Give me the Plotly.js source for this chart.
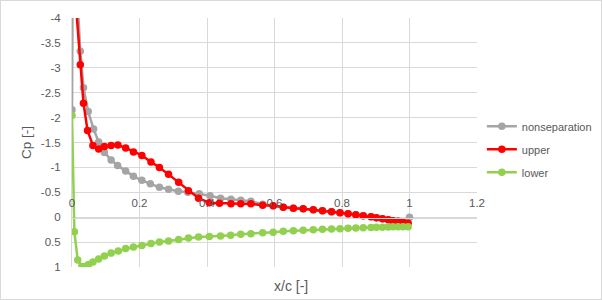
<!DOCTYPE html>
<html>
<head>
<meta charset="utf-8">
<script src="https://cdn.plot.ly/plotly-3.0.1.min.js"></script>
<style>
  html, body { margin: 0; padding: 0; background: #fff; }
  #chart { width: 600px; height: 298px; border: 1px solid #d9d9d9; }
</style>
</head>
<body>
<div id="chart"></div>
<script>
// ---- data ----
const nonsepX = [0, 0.003, 0.0245, 0.034, 0.048, 0.064, 0.079, 0.096, 0.116, 0.135, 0.159, 0.182, 0.207, 0.232, 0.259, 0.286, 0.315, 0.343, 0.377, 0.409, 0.44, 0.471, 0.50, 0.53, 0.565, 0.596, 0.626, 0.656, 0.685, 0.715, 0.742, 0.769, 0.794, 0.818, 0.841, 0.863, 0.886, 0.902, 0.92, 0.937, 0.951, 0.966, 0.981, 1.0];
const nonsepCp = [-2.16, -6.0, -3.33, -2.6, -2.12, -1.77, -1.51, -1.30, -1.15, -1.04, -0.93, -0.82, -0.74, -0.67, -0.60, -0.56, -0.52, -0.50, -0.47, -0.43, -0.38, -0.36, -0.34, -0.32, -0.26, -0.23, -0.20, -0.18, -0.17, -0.15, -0.13, -0.11, -0.09, -0.07, -0.05, -0.03, -0.01, 0.01, 0.03, 0.05, 0.07, 0.08, 0.10, 0.0];

const upperX = [0.01, 0.0245, 0.034, 0.046, 0.062, 0.079, 0.096, 0.116, 0.136, 0.159, 0.182, 0.207, 0.234, 0.259, 0.286, 0.316, 0.345, 0.375, 0.407, 0.437, 0.471, 0.50, 0.53, 0.565, 0.596, 0.626, 0.656, 0.685, 0.715, 0.742, 0.769, 0.794, 0.818, 0.841, 0.863, 0.886, 0.902, 0.92, 0.937, 0.951, 0.966, 0.981, 0.996];
const upperCp = [-4.4, -3.06, -2.29, -1.74, -1.44, -1.37, -1.42, -1.44, -1.45, -1.39, -1.31, -1.24, -1.11, -1.0, -0.86, -0.70, -0.53, -0.38, -0.29, -0.28, -0.27, -0.27, -0.27, -0.24, -0.23, -0.20, -0.18, -0.17, -0.15, -0.13, -0.11, -0.09, -0.07, -0.05, -0.03, -0.01, 0.01, 0.03, 0.05, 0.07, 0.08, 0.10, 0.12];

const lowerX = [0, 0.007, 0.017, 0.029, 0.039, 0.049, 0.062, 0.079, 0.096, 0.116, 0.137, 0.159, 0.182, 0.207, 0.234, 0.259, 0.286, 0.316, 0.345, 0.375, 0.407, 0.44, 0.47, 0.50, 0.53, 0.565, 0.596, 0.626, 0.656, 0.685, 0.715, 0.742, 0.769, 0.794, 0.818, 0.841, 0.863, 0.886, 0.902, 0.92, 0.937, 0.951, 0.966, 0.981, 0.996];
const lowerCp = [-2.04, 0.29, 0.86, 0.99, 0.99, 0.95, 0.90, 0.84, 0.78, 0.72, 0.68, 0.63, 0.60, 0.57, 0.53, 0.50, 0.48, 0.45, 0.42, 0.40, 0.39, 0.38, 0.36, 0.34, 0.33, 0.31, 0.30, 0.28, 0.27, 0.26, 0.25, 0.24, 0.235, 0.23, 0.22, 0.215, 0.21, 0.205, 0.20, 0.20, 0.195, 0.19, 0.19, 0.19, 0.19];

const seriesNames = ["nonseparation", "upper", "lower"];
const xTickVals = [0, 0.2, 0.4, 0.6, 0.8, 1, 1.2];
const xTickText = ["0", "0.2", "0.4", "0.6", "0.8", "1", "1.2"];
const yTickVals = [-4, -3.5, -3, -2.5, -2, -1.5, -1, -0.5, 0, 0.5, 1];
const yTickText = ["-4", "-3.5", "-3", "-2.5", "-2", "-1.5", "-1", "-0.5", "0", "0.5", "1"];
const xTitle = "x/c [-]";
const yTitle = "Cp [-]";

// ---- chart ----
const FONT = "'Liberation Sans', Arial, sans-serif";
const TXT = "#595959";
function series(x, y, name, color, group) {
  return {
    x: x, y: y, name: name, type: "scatter", mode: "lines+markers",
    line: { color: color, width: 2.5 },
    marker: { color: color, size: 7.5 },
    legendgroup: group, cliponaxis: true
  };
}
const data = [
  series(nonsepX, nonsepCp, seriesNames[0], "#a5a5a5", "g1"),
  series(upperX, upperCp, seriesNames[1], "#ff0000", "g2"),
  series(lowerX, lowerCp, seriesNames[2], "#92d050", "g3")
];
const layout = {
  width: 600, height: 298,
  margin: { l: 71, r: 124, t: 17, b: 32, autoexpand: false },
  paper_bgcolor: "#fff", plot_bgcolor: "#fff",
  font: { family: FONT, color: TXT, size: 11 },
  showlegend: true,
  legend: {
    x: 1.012, xanchor: "left", y: 0.623, yanchor: "top",
    traceorder: "grouped", tracegroupgap: 4,
    font: { family: FONT, color: TXT, size: 11 },
    bgcolor: "rgba(0,0,0,0)"
  },
  xaxis: {
    range: [0, 1.2], tickmode: "array", tickvals: xTickVals, ticktext: xTickText,
    showgrid: true, gridcolor: "#d9d9d9", gridwidth: 1,
    zeroline: false, showline: true, linecolor: "#d9d9d9", linewidth: 1,
    ticks: "", anchor: "free", position: 0.1986, side: "top",
    ticklabelstandoff: 6,
    tickfont: { family: FONT, color: TXT, size: 11.5 }
  },
  yaxis: {
    range: [1, -4], tickmode: "array", tickvals: yTickVals, ticktext: yTickText,
    showgrid: true, gridcolor: "#d9d9d9", gridwidth: 1,
    zeroline: false, showline: true, linecolor: "#d9d9d9", linewidth: 1,
    ticks: "", ticklabelstandoff: 8,
    tickfont: { family: FONT, color: TXT, size: 11.5 },
    title: { text: yTitle, font: { family: FONT, color: TXT, size: 13.5 }, standoff: 6 }
  },
  annotations: [{
    text: xTitle, xref: "paper", yref: "paper", x: 0.54, y: -0.075,
    xanchor: "center", yanchor: "middle", showarrow: false,
    font: { family: FONT, color: TXT, size: 14 }
  }]
};
Plotly.newPlot("chart", data, layout, { displayModeBar: false, staticPlot: true });
</script>
</body>
</html>
